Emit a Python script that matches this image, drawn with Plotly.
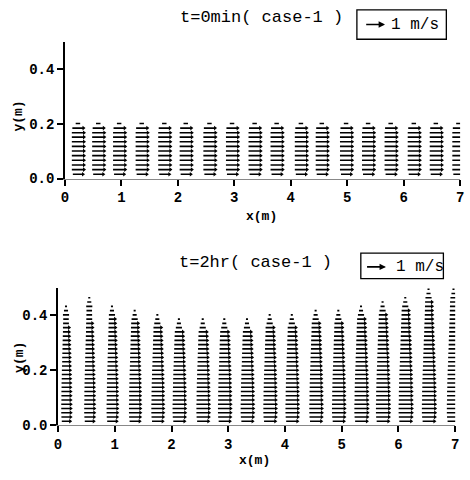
import plotly.graph_objects as go

# ---------------- data ----------------
# column (station) x positions, m
top_x = [0.23, 0.59, 0.96, 1.36, 1.76, 2.14, 2.56, 2.96, 3.36,
         3.75, 4.18, 4.55, 4.98, 5.37, 5.77, 6.18, 6.57, 6.97]
bot_x = [0.14, 0.55, 0.95, 1.35, 1.75, 2.13, 2.55, 2.93, 3.33,
         3.73, 4.12, 4.54, 4.94, 5.34, 5.72, 6.12, 6.53, 6.97]

# t=0 : layer heights (m) and horizontal velocity (m/s) per layer
top_levels = [0.016, 0.033, 0.050, 0.067, 0.084, 0.101,
              0.118, 0.135, 0.152, 0.168, 0.185, 0.202]
top_u = [0.50, 0.60, 0.60, 0.60, 0.60, 0.60,
         0.60, 0.60, 0.60, 0.60, 0.55, 0.22]

# t=2hr : water surface per column, layer heights and velocities
bot_surface = [0.430, 0.469, 0.442, 0.413, 0.400, 0.392, 0.386, 0.388, 0.392,
               0.398, 0.404, 0.412, 0.421, 0.436, 0.450, 0.469, 0.497, 0.500]
bot_levels = [0.013, 0.0285, 0.044, 0.0595, 0.075, 0.0905, 0.106, 0.1215,
              0.137, 0.1525, 0.168, 0.1835, 0.199, 0.2145, 0.230, 0.2455,
              0.261, 0.2765, 0.292, 0.3075, 0.323, 0.3385, 0.354, 0.3695,
              0.385, 0.4005, 0.416, 0.4315, 0.447, 0.4625, 0.478, 0.4935]
bot_u = [0.55, 0.60, 0.62, 0.62, 0.62, 0.60, 0.60, 0.60, 0.58, 0.58, 0.56,
         0.55, 0.54, 0.52, 0.50, 0.50, 0.48, 0.46, 0.45, 0.44, 0.42, 0.40,
         0.40, 0.38, 0.36, 0.35, 0.34, 0.33, 0.32, 0.31, 0.30, 0.30]
bot_col_scale = [0.75, 0.80, 0.85, 0.90, 0.95, 1.0, 1.0, 1.0, 1.0,
                 1.0, 1.0, 1.0, 1.0, 1.05, 1.05, 1.05, 1.05, 1.05]
bot_top_rows_u = [0.10, 0.20, 0.30]   # top-most, 2nd, 3rd layer near surface

ref_speed = 1.0          # reference arrow, m/s
arrow_scale = 0.36       # m of x per m/s

x_ticks = [0, 1, 2, 3, 4, 5, 6, 7]
y_ticks = [0.0, 0.2, 0.4]

FONT = "Liberation Mono"

# ---------------- build arrows ----------------
def arrows(cols, rows_per_col):
    sx, sy, hx, hy = [], [], [], []
    for xc, rows in zip(cols, rows_per_col):
        for y, u in rows:
            L = u * arrow_scale
            sx += [xc - L / 2, xc + L / 2, None]
            sy += [y, y, None]
            if u > 0.3:
                hx.append(xc + L / 2)
                hy.append(y)
    return sx, sy, hx, hy

top_rows = [list(zip(top_levels, top_u)) for _ in top_x]

bot_rows = []
for s, f in zip(bot_surface, bot_col_scale):
    lv = [(y, u * f) for y, u in zip(bot_levels, bot_u) if y <= s + 0.004]
    n = len(lv)
    for k, ut in enumerate(bot_top_rows_u):
        if n - 1 - k >= 0:
            lv[n - 1 - k] = (lv[n - 1 - k][0], ut)
    bot_rows.append(lv)

fig = go.Figure()
for (cols, rows, xa, ya) in [(top_x, top_rows, "x", "y"),
                             (bot_x, bot_rows, "x2", "y2")]:
    sx, sy, hx, hy = arrows(cols, rows)
    fig.add_trace(go.Scatter(x=sx, y=sy, mode="lines",
                             line=dict(color="black", width=1.6),
                             xaxis=xa, yaxis=ya, hoverinfo="skip",
                             showlegend=False))
    fig.add_trace(go.Scatter(x=hx, y=hy, mode="markers",
                             marker=dict(symbol="triangle-right", size=4,
                                         color="black"),
                             xaxis=xa, yaxis=ya, hoverinfo="skip",
                             showlegend=False, cliponaxis=True))

axis_common = dict(range=[0, 7], tickvals=x_ticks, ticks="outside",
                   ticklen=6, tickwidth=1.5, tickcolor="black",
                   showline=True, linecolor="#888", linewidth=1,
                   showgrid=False, zeroline=False, fixedrange=True,
                   tickfont=dict(family=FONT, size=14, color="black",
                                 weight="bold"))
yaxis_common = dict(range=[0, 0.5], tickvals=y_ticks, tickformat=".1f",
                    ticks="outside", ticklen=6, tickwidth=1.5,
                    tickcolor="black", showline=True, linecolor="black",
                    linewidth=1.5, showgrid=False, zeroline=False,
                    fixedrange=True,
                    tickfont=dict(family=FONT, size=14, color="black",
                                  weight="bold"))

W, H = 470, 480
fig.update_layout(
    width=W, height=H, margin=dict(l=0, r=0, t=0, b=0),
    paper_bgcolor="white", plot_bgcolor="white",
    xaxis=dict(domain=[62 / W, 464 / W], anchor="y", **axis_common),
    yaxis=dict(domain=[1 - 182 / H, 1 - 43 / H], anchor="x", **yaxis_common),
    xaxis2=dict(domain=[55 / W, 459 / W], anchor="y2", **axis_common),
    yaxis2=dict(domain=[1 - 433 / H, 1 - 293 / H], anchor="x2", **yaxis_common),
)

ann = []
def txt(x, y, s, size, bold=False, angle=0, xanchor="center"):
    ann.append(dict(xref="paper", yref="paper", x=x, y=y, text=s,
                    showarrow=False, textangle=angle, xanchor=xanchor,
                    yanchor="middle",
                    font=dict(family=FONT, size=size, color="black",
                              weight="bold" if bold else "normal")))

txt(262 / W, 1 - 18 / H, "t=0min( case-1 )", 17)
txt(256 / W, 1 - 268 / H, "t=2hr( case-1 )", 17)
txt(262 / W, 1 - 221 / H, "x(m)", 13, bold=True)
txt(255 / W, 1 - 469 / H, "x(m)", 13, bold=True)
txt(15 / W, 1 - 118 / H, "y(m)", 13, bold=True, angle=-90)
txt(15 / W, 1 - 364 / H, "y(m)", 13, bold=True, angle=-90)
txt(392 / W, 1 - 25 / H, "1 m/s", 16, xanchor="left")
txt(397 / W, 1 - 272 / H, "1 m/s", 16, xanchor="left")

# reference arrows (1 m/s) drawn in data x units
for xr, tail, ypos in [("x", 5.31, 1 - 25 / H), ("x2", 5.42, 1 - 272 / H)]:
    ann.append(dict(xref=xr, yref="paper", axref=xr, ayref="pixel",
                    x=tail + ref_speed * arrow_scale, ax=tail, y=ypos, ay=0,
                    showarrow=True, arrowhead=2, arrowsize=0.8,
                    arrowwidth=1.6, arrowcolor="black", text=""))
fig.update_layout(annotations=ann)

fig.update_layout(shapes=[
    dict(type="rect", xref="paper", yref="paper",
         x0=359 / W, x1=450 / W, y0=1 - 40 / H, y1=1 - 10 / H,
         line=dict(color="black", width=1.3)),
    dict(type="rect", xref="paper", yref="paper",
         x0=363 / W, x1=447 / W, y0=1 - 284 / H, y1=1 - 258 / H,
         line=dict(color="black", width=1.3)),
])

fig.write_html("out.html")
